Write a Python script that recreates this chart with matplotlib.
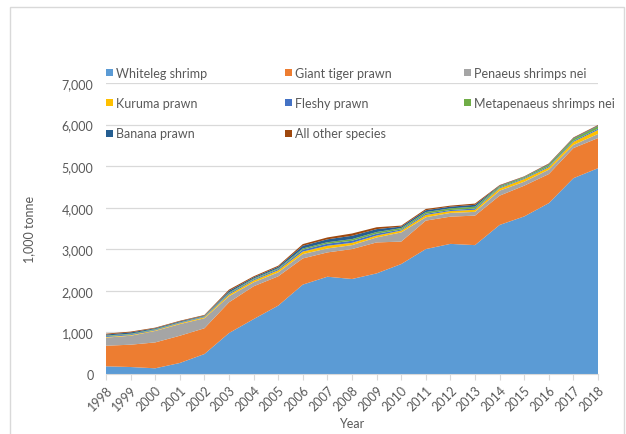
import matplotlib
matplotlib.use("Agg")
import matplotlib.pyplot as plt
from matplotlib.patches import Rectangle
import numpy as np

years = list(range(1998, 2019))
series_names = ["Whiteleg shrimp", "Giant tiger prawn", "Penaeus shrimps nei",
                "Kuruma prawn", "Fleshy prawn", "Metapenaeus shrimps nei",
                "Banana prawn", "All other species"]
whiteleg = [185, 168, 137, 265, 480, 985, 1320, 1645, 2150, 2340, 2285, 2420, 2645, 3005, 3130, 3100, 3585, 3790, 4110, 4710, 4950]
giant_tiger = [495, 537, 623, 655, 620, 740, 790, 705, 630, 585, 720, 745, 540, 685, 655, 710, 705, 740, 700, 725, 725]
penaeus_nei = [195, 215, 275, 280, 240, 145, 95, 95, 105, 95, 95, 120, 220, 80, 90, 90, 120, 95, 105, 75, 100]
kuruma = [15, 15, 15, 20, 25, 40, 45, 50, 60, 65, 55, 45, 45, 55, 45, 50, 55, 65, 55, 75, 95]
fleshy = [20, 20, 15, 15, 15, 30, 25, 30, 45, 50, 50, 45, 25, 30, 25, 30, 20, 20, 25, 25, 30]
metapenaeus = [15, 15, 15, 10, 10, 20, 20, 20, 30, 35, 40, 40, 35, 40, 40, 45, 30, 25, 40, 50, 60]
banana = [25, 30, 20, 20, 15, 40, 30, 35, 65, 70, 80, 70, 35, 45, 40, 45, 15, 10, 15, 15, 15]
other = [20, 20, 15, 15, 15, 30, 25, 25, 40, 45, 55, 45, 25, 30, 25, 30, 15, 10, 15, 15, 15]
yticks = [0, 1000, 2000, 3000, 4000, 5000, 6000, 7000]
ytick_labels = ["0", "1,000", "2,000", "3,000", "4,000", "5,000", "6,000", "7,000"]

colors = ["#5B9BD5", "#ED7D31", "#A5A5A5", "#FFC000", "#4472C4", "#70AD47", "#255E91", "#9E480E"]
data = [whiteleg, giant_tiger, penaeus_nei, kuruma, fleshy, metapenaeus, banana, other]

plt.rcParams['font.family'] = ['Lato', 'DejaVu Sans']
txt = "#595959"

W, H = 626, 435
fig = plt.figure(figsize=(W / 100, H / 100), dpi=100)
ax = fig.add_axes([106 / W, 1 - 375 / H, (598 - 106) / W, (375 - 84) / H])

ax.stackplot(years, *data, colors=colors, linewidth=0)
ax.set_xlim(years[0], years[-1])
ax.set_ylim(0, 7000)
ax.set_yticks(yticks)
ax.set_yticklabels(ytick_labels)
ax.set_xticks(years)
ax.set_xticklabels([str(y) for y in years], rotation=45, ha="right", rotation_mode="anchor")
ax.yaxis.grid(True, color="#D9D9D9", linewidth=0.9)
ax.set_axisbelow(True)
for s in ["top", "right", "left"]:
    ax.spines[s].set_visible(False)
ax.spines["bottom"].set_color("#D9D9D9")
ax.tick_params(axis="y", length=0, labelsize=9, labelcolor=txt, pad=9)
ax.tick_params(axis="x", length=4, color="#D9D9D9", labelsize=9, labelcolor=txt, pad=3)
ax.set_ylabel("1,000 tonne", fontsize=9, color=txt)
ax.set_xlabel("Year", fontsize=9, color=txt, labelpad=3)
ax.yaxis.set_label_coords(-0.143, 0.5)

# frame around the chart
fig.patches.append(Rectangle((10 / W, -0.05), (624 - 10) / W, 1 - 8 / H + 0.05,
                             transform=fig.transFigure, fill=False,
                             edgecolor="#D9D9D9", linewidth=1.0))

# legend (row-major, 3 columns)
col_x = [106, 285, 464]
row_y = [73.5, 103.5, 134]
for i, name in enumerate(series_names):
    r, c = divmod(i, 3)
    x0, y0 = col_x[c], row_y[r]
    fig.patches.append(Rectangle((x0 / W, 1 - (y0 + 3.5) / H), 7 / W, 7 / H,
                                 transform=fig.transFigure, facecolor=colors[i],
                                 edgecolor="none"))
    fig.text((x0 + 10) / W, 1 - y0 / H, name, fontsize=9, color=txt,
             va="center", ha="left")

fig.savefig("out.png", dpi=100)
